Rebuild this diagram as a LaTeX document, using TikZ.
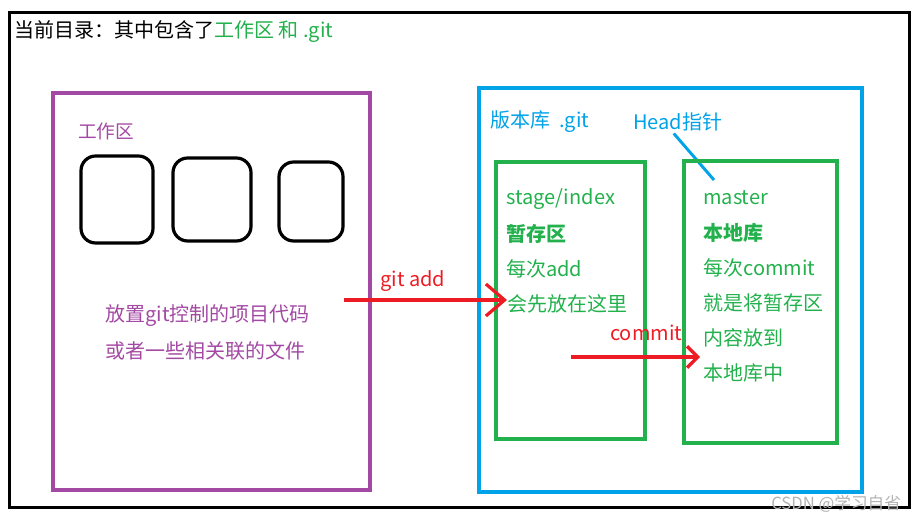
\documentclass[tikz,border=0pt]{standalone}
\usepackage{fontspec}
\setmainfont{Noto Sans CJK SC}
\usetikzlibrary{arrows.meta}

\definecolor{gitpurple}{HTML}{A349A4}
\definecolor{gitblue}{HTML}{00A2E8}
\definecolor{gitgreen}{HTML}{22B14C}
\definecolor{gitred}{HTML}{ED1C24}

\begin{document}
\begin{tikzpicture}[x=0.75pt,y=-0.75pt,
  cadre/.style={draw,line width=2.4pt},
  fichier/.style={draw,line width=2.4pt,rounded corners=11pt},
  texte/.style={anchor=west,inner sep=0pt,font=\fontsize{15}{18}\selectfont},
  fleche/.style={draw=gitred,line width=2.4pt}]

\useasboundingbox (0,0) rectangle (923,523);

% Cadre du répertoire courant
\draw[cadre] (9.5,12.5) rectangle (909.5,507.5);
\node[texte] (titre) at (14,32) {当前目录：其中包含了\textcolor{gitgreen}{工作区 和 .git}};

% Espace de travail
\draw[cadre,gitpurple] (53,93) rectangle (370,490);
\node[texte,gitpurple,font=\fontsize{14}{17}\selectfont] (travail) at (78,131) {工作区};
\draw[fichier] (81,156) rectangle (153,243);
\draw[fichier] (173,158) rectangle (251,241);
\draw[fichier] (279,162) rectangle (343,241);
\node[texte,gitpurple] (travail-1) at (105,316) {放置git控制的项目代码};
\node[texte,gitpurple] (travail-2) at (105,351) {或者一些相关联的文件};

% Dépôt .git
\draw[cadre,gitblue] (479,88) rectangle (862,492);
\node[texte,gitblue] (depot) at (490,122) {版本库\ \ .git};
\node[texte,gitblue] (head) at (633,122) {Head指针};
\coordinate (head-fin) at (714,180);
\draw[gitblue,line width=2.2pt] (head.south) ++(-4,2) -- (head-fin);

% Index
\draw[cadre,gitgreen] (496,162) rectangle (645,439);
\node[texte,gitgreen] (index-1) at (506,199) {stage/index};
\node[texte,gitgreen] (index-2) at (506,234) {\textbf{暂存区}};
\node[texte,gitgreen] (index-3) at (506,269) {每次add};
\node[texte,gitgreen] (index-4) at (507,304) {会先放在这里};

% Branche master
\draw[cadre,gitgreen] (684,161) rectangle (837,443);
\node[texte,gitgreen] (master-1) at (703,198) {master};
\node[texte,gitgreen] (master-2) at (703,233) {\textbf{本地库}};
\node[texte,gitgreen] (master-3) at (703,268) {每次commit};
\node[texte,gitgreen] (master-4) at (703,303) {就是将暂存区};
\node[texte,gitgreen] (master-5) at (703,338) {内容放到};
\node[texte,gitgreen] (master-6) at (703,373) {本地库中};

% Flèches
\coordinate (add-debut) at (344,300);
\coordinate (add-fin) at (507,300);
\draw[fleche,-{Straight Barb[length=14pt,width=24pt]}] (add-debut) -- (add-fin);
\node[texte,gitred] (add) at (380,281) {git add};
\coordinate (commit-debut) at (571,357);
\coordinate (commit-fin) at (700,357);
\draw[fleche,-{Straight Barb[length=8pt,width=16pt]}] (commit-debut) -- (commit-fin);
\node[texte,gitred] (commit) at (610,333) {commit};

% Filigrane
\node[texte,gray!60,font=\fontsize{12.5}{14}\selectfont] (csdn) at (771,504) {CSDN @学习自省};

\end{tikzpicture}
\end{document}
